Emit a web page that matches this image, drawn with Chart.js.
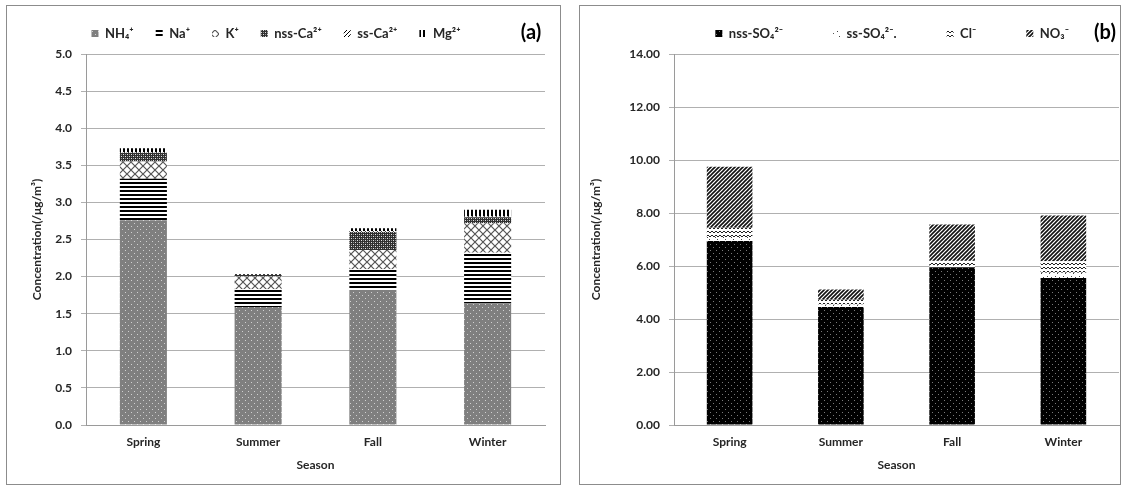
<!DOCTYPE html>
<html>
<head>
<meta charset="utf-8">
<script src="https://cdn.jsdelivr.net/npm/chart.js@4.4.0/dist/chart.umd.min.js"></script>
<style>
    body { margin: 0; background: #fff; width: 1126px; height: 487px; position: relative; overflow: hidden; }
    .panel { position: absolute; top: 5px; border: 1px solid #8c8c8c; }
    #panelA { left: 6px; width: 553px; height: 478px; }
    #panelB { left: 579px; width: 540px; height: 478px; }
</style>
</head>
<body>
<div class="panel" id="panelA"><canvas id="chartA" width="553" height="478"></canvas></div>
<div class="panel" id="panelB"><canvas id="chartB" width="540" height="478"></canvas></div>
<script>
// data
const seasons = ['Spring', 'Summer', 'Fall', 'Winter'];

// (a) cations
const nh4 = [2.76, 1.59, 1.82, 1.64];
const na = [0.56, 0.24, 0.28, 0.68];
const k = [0.23, 0.17, 0.26, 0.40];
const nssCa = [0.12, 0.02, 0.24, 0.08];
const ssCa = [0.01, 0.00, 0.01, 0.01];
const mg = [0.05, 0.01, 0.04, 0.09];

// (b) anions
const nssSO4 = [6.94, 4.45, 5.95, 5.55];
const ssSO4 = [0.15, 0.10, 0.08, 0.20];
const cl = [0.35, 0.18, 0.17, 0.43];
const no3 = [2.31, 0.38, 1.37, 1.73];

const FONT = 'Lato, "Liberation Sans", sans-serif';
const TXT = '#262626';

// small tile patterns like the excel fills
function makePattern(w, h, bg, draw) {
    const c = document.createElement('canvas');
    c.width = w; c.height = h;
    const x = c.getContext('2d');
    x.fillStyle = bg;
    x.fillRect(0, 0, w, h);
    draw(x);
    return x.createPattern(c, 'repeat');
}

const pNH4 = makePattern(6, 6, '#7f7f7f', x => {
    x.fillStyle = '#d0d0d0';
    x.fillRect(1, 1, 1, 1);
    x.fillRect(4, 4, 1, 1);
});
const pNa = makePattern(4, 4, '#ffffff', x => {
    x.fillStyle = '#000';
    x.fillRect(0, 0, 4, 2);
});
const pK = makePattern(8, 8, '#ffffff', x => {
    x.strokeStyle = '#555';
    x.lineWidth = 1.2;
    x.beginPath();
    x.moveTo(0, 0); x.lineTo(8, 8);
    x.moveTo(8, 0); x.lineTo(0, 8);
    x.stroke();
});
const pNssCa = makePattern(4, 4, '#303030', x => {
    x.fillStyle = '#e0e0e0';
    x.fillRect(0, 0, 1, 1);
    x.fillRect(2, 2, 1, 1);
    x.fillStyle = '#909090';
    x.fillRect(2, 0, 1, 1);
    x.fillRect(0, 2, 1, 1);
});
const pSsCa = makePattern(4, 4, '#ffffff', x => {
    x.fillStyle = '#000';
    for (let i = 0; i < 4; i++) x.fillRect(i, 3 - i, 1, 1);
});
const pMg = makePattern(4, 4, '#ffffff', x => {
    x.fillStyle = '#000';
    x.fillRect(0, 0, 2, 4);
});

const pNssSO4 = makePattern(6, 6, '#000000', x => {
    x.fillStyle = '#7a7a7a';
    x.fillRect(1, 1, 1, 1);
    x.fillRect(4, 4, 1, 1);
});
const pSsSO4 = makePattern(8, 8, '#ffffff', x => {
    x.fillStyle = '#444';
    x.fillRect(1, 1, 1, 1);
    x.fillRect(5, 3, 1, 1);
    x.fillRect(3, 6, 1, 1);
    x.fillRect(7, 7, 1, 1);
});
const pCl = makePattern(8, 4, '#ffffff', x => {
    x.strokeStyle = '#222';
    x.lineWidth = 1;
    x.beginPath();
    x.moveTo(0, 1); x.lineTo(2, 3); x.lineTo(4, 1); x.lineTo(6, 3); x.lineTo(8, 1);
    x.stroke();
});
const pNO3 = makePattern(4, 4, '#ffffff', x => {
    x.strokeStyle = '#111';
    x.lineWidth = 1.6;
    x.beginPath();
    x.moveTo(-1, 5); x.lineTo(5, -1);
    x.moveTo(-3, 3); x.lineTo(3, -3);
    x.moveTo(1, 7); x.lineTo(7, 1);
    x.stroke();
});

// (a)/(b) tag in the corner
const panelLetter = {
    id: 'panelLetter',
    afterDraw(chart, args, opts) {
        const ctx = chart.ctx;
        ctx.save();
        ctx.font = 'bold 20px ' + FONT;
        ctx.fillStyle = '#000';
        ctx.textAlign = 'center';
        ctx.textBaseline = 'middle';
        ctx.fillText(opts.text, opts.x, opts.y);
        ctx.restore();
    }
};

// a little more room under the legend
const legendGap = {
    id: 'legendGap',
    afterInit(chart, args, opts) {
        const fit = chart.legend.fit;
        chart.legend.fit = function () {
            fit.call(this);
            this.height += opts.extra;
        };
    }
};

function axisOpts(max, step, decimals, yWidth, titlePad) {
    return {
        x: {
            stacked: true,
            grid: { display: false },
            border: { color: '#9a9a9a', width: 1 },
            ticks: { color: TXT, font: { family: FONT, size: 12, weight: 'bold' }, padding: 2 },
            title: { display: true, text: 'Season', color: TXT, font: { family: FONT, size: 12, weight: 'bold' }, padding: { top: 2, bottom: 12 } },
            afterFit: s => { s.height = 59; }
        },
        y: {
            stacked: true,
            min: 0,
            max: max,
            grid: { color: '#b0b0b0', lineWidth: 1, tickLength: 5 },
            border: { color: '#9a9a9a', width: 1 },
            ticks: {
                stepSize: step,
                color: TXT,
                font: { family: FONT, size: 12, weight: 'bold' },
                padding: 9,
                callback: v => Number(v).toFixed(decimals)
            },
            title: { display: true, text: 'Concentration(/μg/m³)', color: TXT, font: { family: FONT, size: 12, weight: 'bold' }, padding: { top: titlePad, bottom: 0 } },
            afterFit: s => { s.width = yWidth; }
        }
    };
}

// panel (a)
const chartA = new Chart(document.getElementById('chartA').getContext('2d'), {
    type: 'bar',
    data: {
        labels: seasons,
        datasets: [
            { label: 'NH₄⁺', data: nh4, backgroundColor: pNH4 },
            { label: 'Na⁺', data: na, backgroundColor: pNa },
            { label: 'K⁺', data: k, backgroundColor: pK },
            { label: 'nss-Ca²⁺', data: nssCa, backgroundColor: pNssCa },
            { label: 'ss-Ca²⁺', data: ssCa, backgroundColor: pSsCa },
            { label: 'Mg²⁺', data: mg, backgroundColor: pMg }
        ]
    },
    options: {
        responsive: false,
        animation: false,
        datasets: { bar: { barPercentage: 0.41, categoryPercentage: 1 } },
        layout: { padding: { top: -1, right: 15, bottom: 0, left: 0 } },
        scales: axisOpts(5, 0.5, 1, 79, 23),
        plugins: {
            legend: {
                position: 'top',
                align: 'center',
                labels: { boxWidth: 7, boxHeight: 7, padding: 22, color: TXT, font: { family: FONT, size: 13, weight: 'bold' } }
            },
            tooltip: { enabled: false },
            panelLetter: { text: '(a)', x: 524, y: 27 },
            legendGap: { extra: 4 }
        }
    },
    plugins: [panelLetter, legendGap]
});

// panel (b)
const chartB = new Chart(document.getElementById('chartB').getContext('2d'), {
    type: 'bar',
    data: {
        labels: seasons,
        datasets: [
            { label: 'nss-SO₄²⁻', data: nssSO4, backgroundColor: pNssSO4 },
            { label: 'ss-SO₄²⁻.', data: ssSO4, backgroundColor: pSsSO4 },
            { label: 'Cl⁻', data: cl, backgroundColor: pCl },
            { label: 'NO₃⁻', data: no3, backgroundColor: pNO3 }
        ]
    },
    options: {
        responsive: false,
        animation: false,
        datasets: { bar: { barPercentage: 0.41, categoryPercentage: 1 } },
        layout: { padding: { top: -29, right: 1, bottom: 0, left: 0 } },
        scales: axisOpts(14, 2, 2, 94, 9),
        plugins: {
            legend: {
                position: 'top',
                align: 'end',
                labels: { boxWidth: 7, boxHeight: 7, padding: 50, color: TXT, font: { family: FONT, size: 13, weight: 'bold' } }
            },
            tooltip: { enabled: false },
            panelLetter: { text: '(b)', x: 525, y: 27 },
            legendGap: { extra: 4 }
        }
    },
    plugins: [panelLetter, legendGap]
});
</script>
</body>
</html>
